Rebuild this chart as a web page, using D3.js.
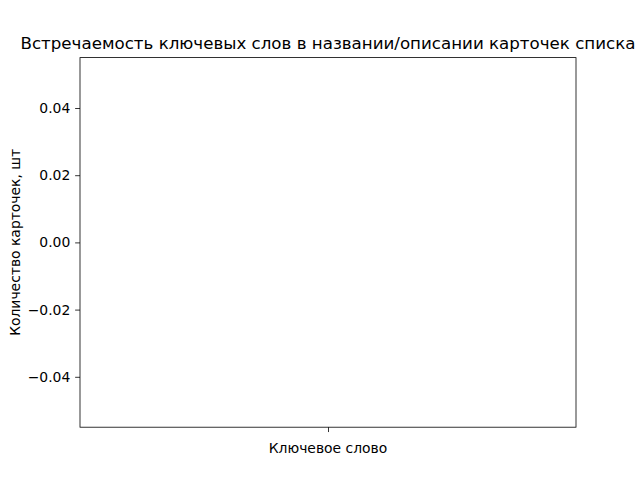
<!DOCTYPE html>
<html>
<head>
<meta charset="utf-8">
<script src="https://cdn.jsdelivr.net/npm/d3@7"></script>
<style>
	body{margin:0;background:#fff;}
	svg{display:block;font-family:"DejaVu Sans",sans-serif;}
</style>
</head>
<body>
<svg id="chart" width="640" height="480"></svg>
<script>
// keywords found in card titles/descriptions - nothing matched, so it's empty
var keywords = [];
var cardCounts = [];

var yDomain = [-0.055, 0.055];
var xDomain = [-0.055, 0.055];
var yTickValues = [-0.04, -0.02, 0.00, 0.02, 0.04];
var xTickValues = [0];

var titleText = "Встречаемость ключевых слов в названии/описании карточек списка";
var xLabelText = "Ключевое слово";
var yLabelText = "Количество карточек, шт";

var margin = {left:80, right:64, top:57.6, bottom:52.8};
var W = 640, H = 480;
var innerW = W - margin.left - margin.right;
var innerH = H - margin.top - margin.bottom;

var svg = d3.select("#chart");
var g = svg.append("g").attr("transform","translate("+margin.left+","+margin.top+")");

var y = d3.scaleLinear().domain(yDomain).range([innerH,0]);
var x = d3.scaleLinear().domain(xDomain).range([0,innerW]);
// band scale for the bars themselves (empty here)
var xBand = d3.scaleBand().domain(keywords).range([0,innerW]).padding(0.2);

g.selectAll("rect.bar")
	.data(cardCounts)
	.enter()
	.append("rect")
	.attr("class","bar")
	.attr("x", function(d,i){ return xBand(keywords[i]); })
	.attr("width", xBand.bandwidth())
	.attr("y", function(d){ return y(Math.max(0,d)); })
	.attr("height", function(d){ return Math.abs(y(d)-y(0)); })
	.attr("fill","#1f77b4");

var tickLen = 4.86, tickPad = 4.86;
var fmt = function(d){ return d3.format(".2f")(d).replace("-","\u2212"); };

var yAxis = g.append("g")
	.call(d3.axisLeft(y).tickValues(yTickValues).tickFormat(fmt).tickSizeInner(tickLen).tickSizeOuter(0).tickPadding(tickPad));
yAxis.select(".domain").remove();
yAxis.selectAll("line").attr("stroke","#000").attr("stroke-width",0.8);
yAxis.selectAll("text").attr("font-size","13.9px").attr("font-family","DejaVu Sans").attr("fill","#000");

var xAxis = g.append("g")
	.attr("transform","translate(0,"+innerH+")")
	.call(d3.axisBottom(x).tickValues(xTickValues).tickFormat(function(){ return ""; }).tickSizeInner(tickLen).tickSizeOuter(0).tickPadding(tickPad));
xAxis.select(".domain").remove();
xAxis.selectAll("line").attr("stroke","#000").attr("stroke-width",0.8);

g.append("rect")
	.attr("x",0).attr("y",0)
	.attr("width",innerW).attr("height",innerH)
	.attr("fill","none")
	.attr("stroke","#000")
	.attr("stroke-width",0.8);

svg.append("text")
	.attr("x", margin.left + innerW/2)
	.attr("y", margin.top - 8.3)
	.attr("text-anchor","middle")
	.attr("font-size","16.67px")
	.attr("fill","#000")
	.text(titleText);

svg.append("text")
	.attr("x", margin.left + innerW/2)
	.attr("y", 453)
	.attr("text-anchor","middle")
	.attr("font-size","13.9px")
	.attr("fill","#000")
	.text(xLabelText);

svg.append("text")
	.attr("transform","translate(20,"+(margin.top+innerH/2)+") rotate(-90)")
	.attr("text-anchor","middle")
	.attr("font-size","13.9px")
	.attr("fill","#000")
	.text(yLabelText);
</script>
</body>
</html>
